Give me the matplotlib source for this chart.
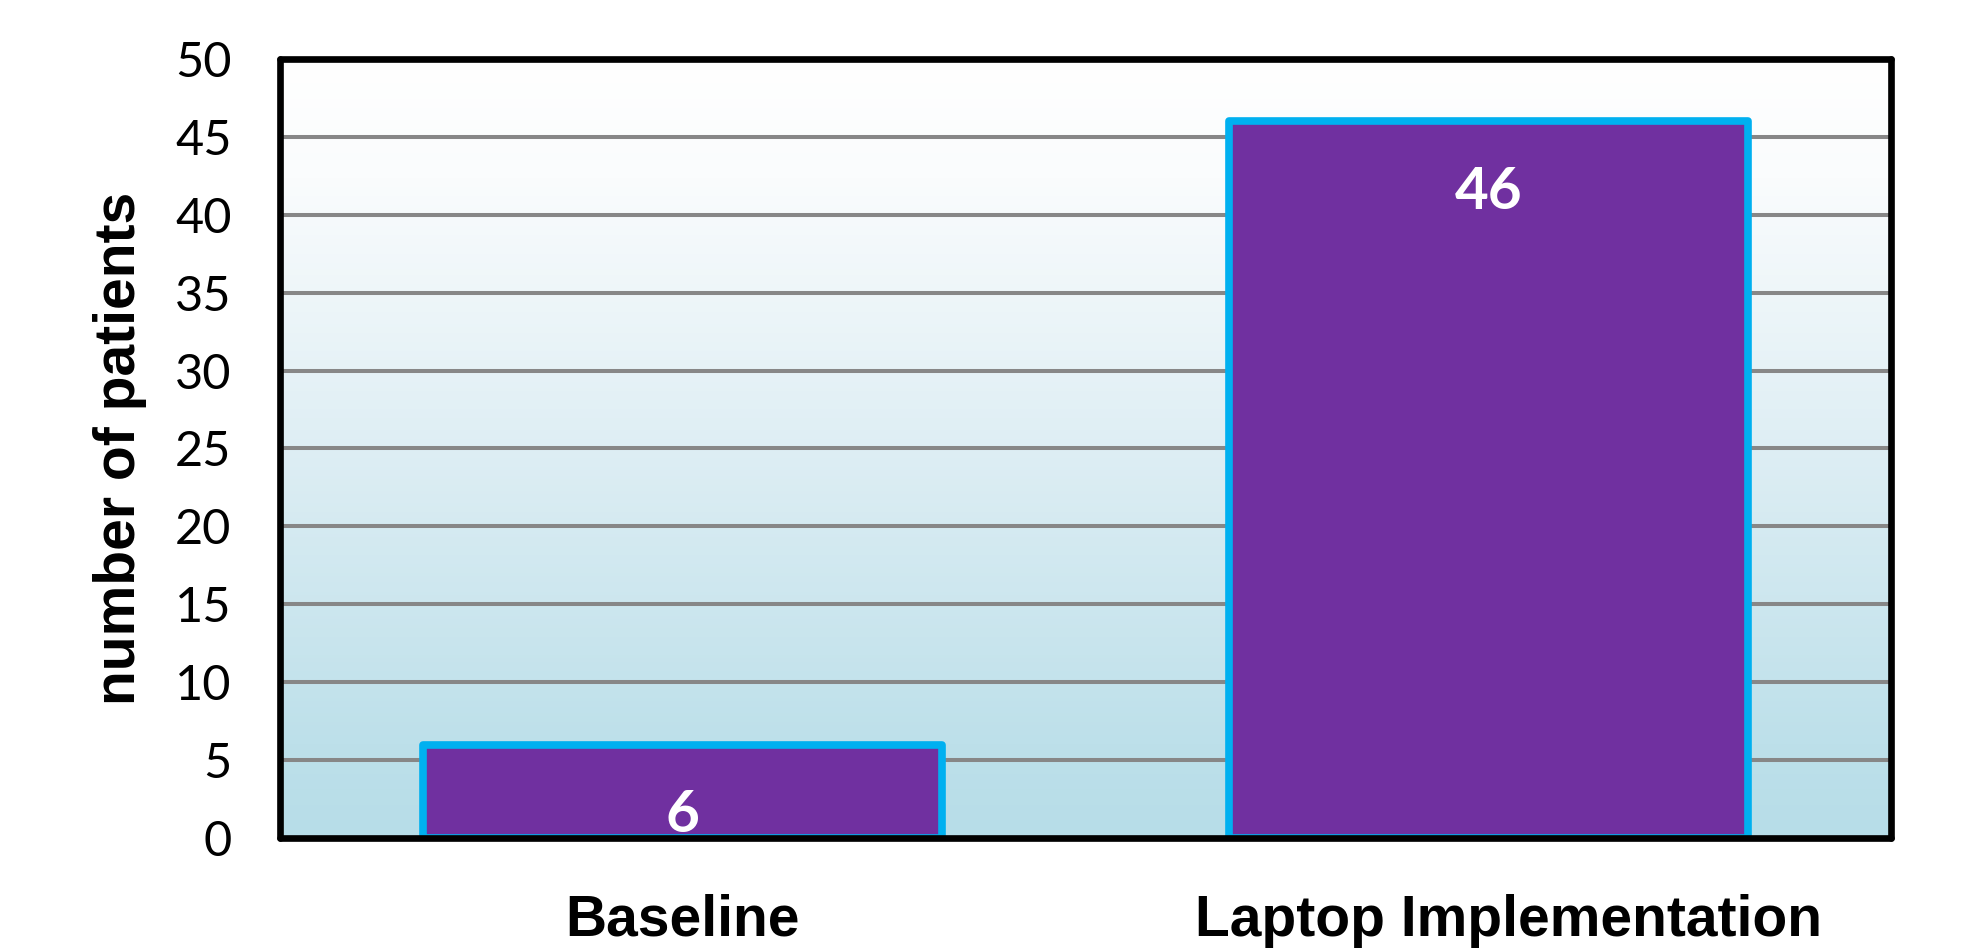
import matplotlib.pyplot as plt
import numpy as np
from matplotlib.colors import LinearSegmentedColormap
from matplotlib.transforms import ScaledTranslation

categories = ['Baseline', 'Laptop Implementation']
patients = [6, 46]
y_ticks = [0, 5, 10, 15, 20, 25, 30, 35, 40, 45, 50]

fig = plt.figure(figsize=(19.64, 9.5), dpi=100)
ax = fig.add_axes([0.1426, 0.1179, 0.8202, 0.82])

# background gradient, white at top to light aqua at the bottom
cmap = LinearSegmentedColormap.from_list(
    'bg', [(0, '#b7dde8'), (0.12, '#bde0ea'), (0.5, '#deeef4'),
           (0.85, '#fafcfd'), (1, '#ffffff')])
grad = np.linspace(0, 1, 256).reshape(-1, 1)
ax.imshow(grad, cmap=cmap, aspect='auto', origin='lower',
          extent=[0, 1, 0, 1], transform=ax.transAxes, zorder=0)

x = np.arange(len(categories))
bars = ax.bar(x, patients, width=0.644, color='#7030a0',
              edgecolor='#00b0f0', linewidth=5.5, zorder=2)
for b in bars:
    b.set_joinstyle('round')

for xi, v in zip(x, patients):
    ax.annotate(str(v), (xi, v), xytext=(0, -51), textcoords='offset points',
                ha='center', va='center', color='white', fontsize=42,
                fontweight='bold', family='Lato', zorder=3)

ax.set_xlim(-0.5, 1.5)
ax.set_ylim(0, 50)
ax.set_yticks(y_ticks)
ax.set_xticks(x, categories)
ax.yaxis.grid(True, color='#878787', linewidth=2.9)
ax.set_axisbelow(True)
for gl in ax.get_ygridlines():
    gl.set_zorder(1)

for sp in ax.spines.values():
    sp.set_linewidth(4.8)
    sp.set_color('black')
    sp.set_capstyle('round')
    sp.set_zorder(4)

ax.tick_params(axis='y', length=0, pad=35, labelsize=35)
ax.tick_params(axis='x', length=0, pad=40)
for t in ax.get_yticklabels():
    t.set_family('Lato')
for t in ax.get_xticklabels():
    t.set_family('Liberation Sans')
    t.set_fontweight('bold')
    t.set_fontsize(41)
# second label sits a bit right of its bar centre in the original
lab2 = ax.get_xticklabels()[1]
lab2.set_transform(lab2.get_transform() + ScaledTranslation(0.2, 0, fig.dpi_scale_trans))

ax.set_ylabel('number of patients', fontsize=41, fontweight='bold',
              family='Liberation Sans', labelpad=20)

plt.savefig('out.png', dpi=100)
